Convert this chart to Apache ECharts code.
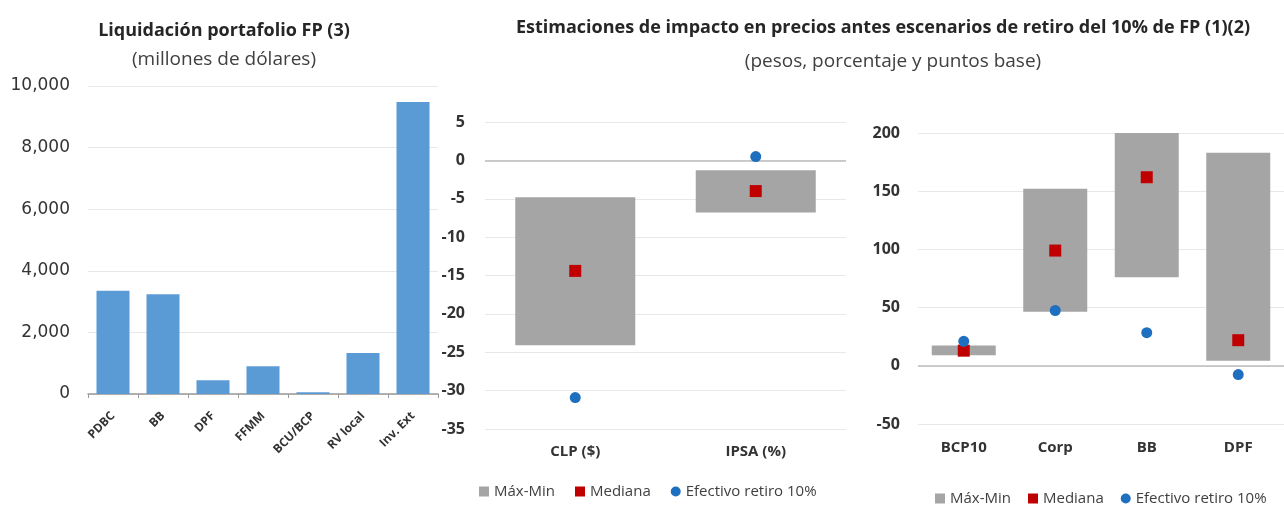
<!DOCTYPE html>
<html>
<head>
<meta charset="utf-8">
<script src="https://cdn.jsdelivr.net/npm/echarts@6/dist/echarts.min.js"></script>
<style>html,body{margin:0;padding:0;background:#fff}#c{width:1284px;height:506px}</style>
</head>
<body>
<div id="c"></div>
<script>
// ---- data ----
const leftCats = ['PDBC', 'BB', 'DPF', 'FFMM', 'BCU/BCP', 'RV local', 'Inv. Ext'];
const leftVals = [3350, 3240, 450, 900, 60, 1330, 9480];

const midCats = ['CLP ($)', 'IPSA (%)'];
const midHigh = [-4.8, -1.3];
const midLow = [-24.1, -6.8];
const midMedian = [-14.4, -4.0];
const midEfectivo = [-30.9, 0.5];

const rightCats = ['BCP10', 'Corp', 'BB', 'DPF'];
const rightLow = [9, 46.5, 76, 4.3];
const rightHigh = [17.5, 152, 200, 183];
const rightMedian = [13, 99, 162, 22];
const rightEfectivo = [21, 47.5, 28.5, -7.5];

const leftTicks = [0, 2000, 4000, 6000, 8000, 10000];
const midTicks = [-35, 5, 5];   // min, max, interval
const rightTicks = [-50, 200, 50];

// stacked range helpers: base = end closer to zero, span = difference
function base(lo, hi) { return lo.map((l, i) => (hi[i] <= 0 ? hi[i] : (l >= 0 ? l : 0))); }
function span(lo, hi) { return lo.map((l, i) => (hi[i] <= 0 ? l - hi[i] : hi[i] - l)); }

const GRAY = '#A5A5A5', RED = '#C00000', BLUE = '#1F6FC0', BAR = '#5B9BD5';
const FONT = 'Open Sans';

const chart = echarts.init(document.getElementById('c'));
const axisLbl = { color: '#333', fontFamily: FONT };
const gridLine = { show: true, lineStyle: { color: '#e8e8e8', width: 1 } };
const zeroLine = {
  silent: true, symbol: 'none', label: { show: false },
  lineStyle: { color: '#bdbdbd', width: 1.5, type: 'solid' },
  data: [{ yAxis: 0 }]
};
const legendData = [{ name: 'Máx-Min', icon: 'rect' }, { name: 'Mediana', icon: 'rect' }, { name: 'Efectivo retiro 10%', icon: 'circle' }];

chart.setOption({
  animation: false,
  textStyle: { fontFamily: FONT },
  title: [
    { text: 'Liquidación portafolio FP (3)', left: 219, top: 17, textAlign: 'center',
      textStyle: { fontSize: 18, fontWeight: 'bold', color: '#262626', fontFamily: FONT } },
    { text: '(millones de dólares)', left: 219, top: 45, textAlign: 'center',
      textStyle: { fontSize: 19, fontWeight: 'normal', color: '#404040', fontFamily: FONT } },
    { text: 'Estimaciones de impacto en precios antes escenarios de retiro del 10% de FP (1)(2)', left: 878, top: 14, textAlign: 'center',
      textStyle: { fontSize: 18, fontWeight: 'bold', color: '#262626', fontFamily: FONT } },
    { text: '(pesos, porcentaje y puntos base)', left: 888, top: 47, textAlign: 'center',
      textStyle: { fontSize: 19, fontWeight: 'normal', color: '#404040', fontFamily: FONT } }
  ],
  legend: [
    { left: 474, top: 479, itemWidth: 10, itemHeight: 10, itemGap: 20,
      textStyle: { fontSize: 15, color: '#404040', fontFamily: FONT }, data: legendData },
    { left: 930, top: 486, itemWidth: 10, itemHeight: 10, itemGap: 17,
      textStyle: { fontSize: 15, color: '#404040', fontFamily: FONT }, data: legendData }
  ],
  grid: [
    { left: 88, right: 846, top: 86, bottom: 112 },
    { left: 485, right: 438, top: 122, bottom: 77 },
    { left: 918, right: -20, top: 133, bottom: 82 }
  ],
  xAxis: [
    { gridIndex: 0, type: 'category', data: leftCats,
      axisLine: { show: true, lineStyle: { color: '#999', width: 1.5 } },
      axisTick: { show: true, length: 4, lineStyle: { color: '#999' } },
      axisLabel: Object.assign({}, axisLbl, { rotate: 45, fontSize: 12, fontWeight: 'bold', interval: 0, margin: 20 }) },
    { gridIndex: 1, type: 'category', data: midCats,
      axisLine: { show: false }, axisTick: { show: false },
      axisLabel: Object.assign({}, axisLbl, { fontSize: 15, fontWeight: 'bold', margin: 15 }) },
    { gridIndex: 2, type: 'category', data: rightCats,
      axisLine: { show: false }, axisTick: { show: false },
      axisLabel: Object.assign({}, axisLbl, { fontSize: 15, fontWeight: 'bold', margin: 16 }) }
  ],
  yAxis: [
    { gridIndex: 0, type: 'value', min: leftTicks[0], max: leftTicks[leftTicks.length - 1], interval: leftTicks[1] - leftTicks[0],
      axisLine: { show: false }, axisTick: { show: false }, splitLine: gridLine,
      axisLabel: { color: '#333', fontFamily: 'DejaVu Sans', fontSize: 17, margin: 18,
        formatter: v => v.toLocaleString('en-US') } },
    { gridIndex: 1, type: 'value', min: midTicks[0], max: midTicks[1], interval: midTicks[2],
      axisLine: { show: false }, axisTick: { show: false }, splitLine: gridLine,
      axisLabel: Object.assign({}, axisLbl, { fontSize: 16, fontWeight: 'bold', margin: 20 }) },
    { gridIndex: 2, type: 'value', min: rightTicks[0], max: rightTicks[1], interval: rightTicks[2],
      axisLine: { show: false }, axisTick: { show: false }, splitLine: gridLine,
      axisLabel: Object.assign({}, axisLbl, { fontSize: 16, fontWeight: 'bold', margin: 18 }) }
  ],
  series: [
    { type: 'bar', name: 'Liquidación', xAxisIndex: 0, yAxisIndex: 0, data: leftVals,
      barWidth: 33, itemStyle: { color: BAR } },

    { type: 'bar', name: '_baseMid', xAxisIndex: 1, yAxisIndex: 1, stack: 'mid',
      data: base(midLow, midHigh), barWidth: 120, itemStyle: { color: 'transparent' }, silent: true },
    { type: 'bar', name: 'Máx-Min', xAxisIndex: 1, yAxisIndex: 1, stack: 'mid',
      data: span(midLow, midHigh), barWidth: 120, itemStyle: { color: GRAY } },
    { type: 'scatter', name: 'Mediana', xAxisIndex: 1, yAxisIndex: 1, data: midMedian,
      symbol: 'rect', symbolSize: 12, itemStyle: { color: RED, opacity: 1 }, z: 5, markLine: zeroLine },
    { type: 'scatter', name: 'Efectivo retiro 10%', xAxisIndex: 1, yAxisIndex: 1, data: midEfectivo,
      symbol: 'circle', symbolSize: 11, itemStyle: { color: BLUE, opacity: 1 }, z: 6 },

    { type: 'bar', name: '_baseRight', xAxisIndex: 2, yAxisIndex: 2, stack: 'right',
      data: base(rightLow, rightHigh), barWidth: 64, itemStyle: { color: 'transparent' }, silent: true },
    { type: 'bar', name: 'Máx-Min', xAxisIndex: 2, yAxisIndex: 2, stack: 'right',
      data: span(rightLow, rightHigh), barWidth: 64, itemStyle: { color: GRAY } },
    { type: 'scatter', name: 'Mediana', xAxisIndex: 2, yAxisIndex: 2, data: rightMedian,
      symbol: 'rect', symbolSize: 12, itemStyle: { color: RED, opacity: 1 }, z: 5, markLine: zeroLine },
    { type: 'scatter', name: 'Efectivo retiro 10%', xAxisIndex: 2, yAxisIndex: 2, data: rightEfectivo,
      symbol: 'circle', symbolSize: 11, itemStyle: { color: BLUE, opacity: 1 }, z: 6 }
  ]
});
</script>
</body>
</html>
